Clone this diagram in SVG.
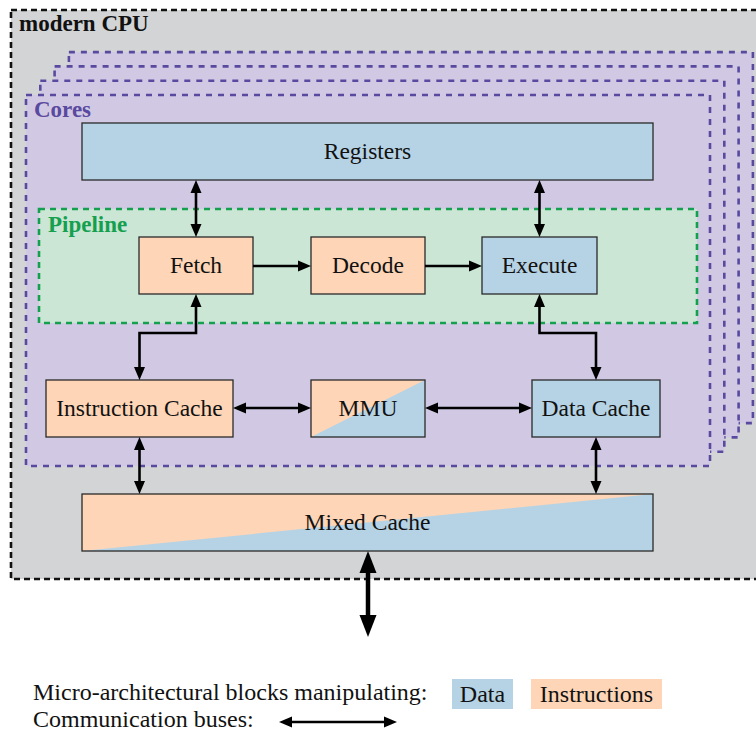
<svg xmlns="http://www.w3.org/2000/svg" width="756" height="733" viewBox="0 0 756 733">
  <style>
    text { font-family: "Liberation Serif", "Times New Roman", serif; font-size: 23.5px; fill: #111; }
    .lbl { text-anchor: middle; }
    .title { font-weight: bold; font-size: 23px; }
    .leg { font-size: 24px; }
    .box { stroke: #2a2a2a; stroke-width: 1.3; }
    .instr { fill: #fed5b6; }
    .data { fill: #b6d3e5; }
    .core { fill: #d1c9e4; stroke: #5a4a9f; stroke-width: 2.6; stroke-dasharray: 6 6; }
    .bus { fill: none; stroke: #000; stroke-width: 2.6; marker-start: url(#ah); marker-end: url(#ah); }
    .one { fill: none; stroke: #000; stroke-width: 2.6; marker-end: url(#ah); }
  </style>
  <defs>
    <marker id="ah" markerUnits="userSpaceOnUse" markerWidth="13" markerHeight="11" refX="6" refY="5.5" orient="auto-start-reverse" overflow="visible">
      <path d="M0,0 L13,5.5 L0,11 z" fill="#000"/>
    </marker>
    <marker id="bh" markerUnits="userSpaceOnUse" markerWidth="22" markerHeight="17" refX="11" refY="8.5" orient="auto-start-reverse" overflow="visible">
      <path d="M0,0 L22,8.5 L0,17 z" fill="#000"/>
    </marker>
  </defs>

  <rect width="756" height="733" fill="#fff"/>

  <g id="cpu">
    <rect x="11" y="10" width="760" height="569" fill="#d3d4d5" stroke="#111" stroke-width="2.6" stroke-dasharray="6 4"/>
    <text class="title" x="19" y="31">modern CPU</text>
  </g>

  <g id="cores">
    <rect class="core" x="68.9" y="52.1" width="684" height="371"/>
    <rect class="core" x="54.6" y="66.4" width="684" height="371"/>
    <rect class="core" x="40.3" y="80.7" width="684" height="371"/>
    <rect class="core" x="26" y="95" width="684" height="371"/>
    <text class="title" x="34" y="117" style="fill:#5a4a9f">Cores</text>
  </g>

  <g id="pipeline">
    <rect x="39" y="209" width="658" height="114" fill="#cbe6d4" stroke="#14a04f" stroke-width="2.6" stroke-dasharray="6 5"/>
    <text class="title" x="48" y="232" style="fill:#14a04f">Pipeline</text>
  </g>

  <g id="registers">
    <rect class="box data" x="82" y="123" width="571" height="57"/>
    <text class="lbl" x="367.5" y="159">Registers</text>
  </g>

  <g id="fetch">
    <rect class="box instr" x="139" y="237" width="114" height="57"/>
    <text class="lbl" x="196" y="273">Fetch</text>
  </g>

  <g id="decode">
    <rect class="box instr" x="311" y="237" width="114" height="57"/>
    <text class="lbl" x="368" y="273">Decode</text>
  </g>

  <g id="execute">
    <rect class="box data" x="482" y="237" width="115" height="57"/>
    <text class="lbl" x="539.5" y="273">Execute</text>
  </g>

  <g id="icache">
    <rect class="box instr" x="46" y="380" width="187" height="57"/>
    <text class="lbl" x="139.5" y="416">Instruction Cache</text>
  </g>

  <g id="mmu">
    <rect class="instr" x="311" y="380" width="114" height="57"/>
    <polygon class="data" points="311,437 425,380 425,437"/>
    <rect class="box" x="311" y="380" width="114" height="57" fill="none"/>
    <text class="lbl" x="368" y="416">MMU</text>
  </g>

  <g id="dcache">
    <rect class="box data" x="532" y="380" width="128" height="57"/>
    <text class="lbl" x="596" y="416">Data Cache</text>
  </g>

  <g id="mixedcache">
    <rect class="instr" x="82" y="494" width="571" height="57"/>
    <polygon class="data" points="82,551 653,494 653,551"/>
    <rect class="box" x="82" y="494" width="571" height="57" fill="none"/>
    <text class="lbl" x="367.5" y="530">Mixed Cache</text>
  </g>

  <g id="connectors">
    <line class="bus" x1="196" y1="187" x2="196" y2="230"/>
    <line class="bus" x1="539.5" y1="187" x2="539.5" y2="230"/>
    <line class="one" x1="253" y1="266" x2="304" y2="266"/>
    <line class="one" x1="425" y1="266" x2="475" y2="266"/>
    <polyline class="bus" points="196,301 196,333 139.5,333 139.5,373"/>
    <polyline class="bus" points="539.5,301 539.5,333 596,333 596,373"/>
    <line class="bus" x1="240" y1="408" x2="304" y2="408"/>
    <line class="bus" x1="432" y1="408" x2="525" y2="408"/>
    <line class="bus" x1="139.5" y1="444" x2="139.5" y2="487"/>
    <line class="bus" x1="596" y1="444" x2="596" y2="487"/>
    <line x1="368" y1="562" x2="368" y2="626" stroke="#000" stroke-width="4.5" marker-start="url(#bh)" marker-end="url(#bh)"/>
  </g>

  <g id="legend">
    <text class="leg" x="33" y="700">Micro-architectural blocks manipulating:</text>
    <rect class="data" x="452" y="679" width="61" height="30"/>
    <text class="leg lbl" x="482.5" y="702">Data</text>
    <rect class="instr" x="531" y="679" width="131" height="30"/>
    <text class="leg lbl" x="596.5" y="702">Instructions</text>
    <text class="leg" x="33" y="727">Communication buses:</text>
    <line class="bus" x1="286" y1="722" x2="390" y2="722"/>
  </g>
</svg>
